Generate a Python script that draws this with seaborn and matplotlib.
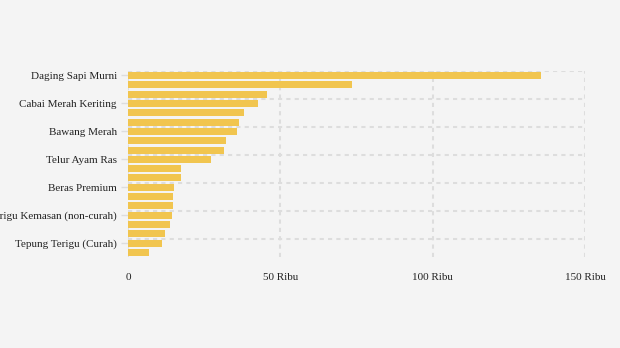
import matplotlib
matplotlib.use("Agg")
import matplotlib.pyplot as plt
import seaborn as sns
import pandas as pd
import numpy as np

categories = [
    "Daging Sapi Murni", "Cabai Rawit Merah", "Bawang Putih Bonggol",
    "Cabai Merah Keriting", "Cabai Merah Besar", "Daging Ayam Ras",
    "Bawang Merah", "Ikan Bandeng", "Ikan Kembung",
    "Telur Ayam Ras", "Minyak Goreng Kemasan", "Gula Konsumsi",
    "Beras Premium", "Minyakita", "Minyak Goreng Curah",
    "Tepung Terigu Kemasan (non-curah)", "Beras Medium", "Kedelai Biji Kering",
    "Tepung Terigu (Curah)", "Jagung Tk Peternak",
]
values = [135600, 73500, 45600, 42700, 38100, 36400, 35800, 32200, 31500,
          27200, 17400, 17400, 15100, 14800, 14800, 14400, 13800, 12100,
          11200, 6900]
xticks = [0, 50000, 100000, 150000]
xticklabels = ["0", "50 Ribu", "100 Ribu", "150 Ribu"]

df = pd.DataFrame({"cat": categories, "val": values})

sns.set_theme(style="white")
plt.rcParams["font.family"] = ["Liberation Serif", "DejaVu Serif"]

bg = "#f4f4f4"
fig = plt.figure(figsize=(6.2, 3.48), dpi=100, facecolor=bg)
ax = fig.add_axes([128/620, 1-257.3/348, (585-128)/620, (257.3-70.7)/348])
ax.set_facecolor(bg)

sns.barplot(data=df, x="val", y="cat", orient="h", color="#f1c54f",
            saturation=1, width=0.75, linewidth=0, edgecolor="none",
            ax=ax, zorder=3)

n = len(categories)
ax.set_xlim(0, 150000)
ax.set_ylim(n - 0.5, -0.5)

shown = list(range(0, n, 3))
ax.set_yticks(shown)
ax.set_yticklabels([categories[i] for i in shown], fontsize=8, color="#222222")
ax.set_yticks([i - 0.5 for i in shown], minor=True)
ax.set_xticks(xticks)
ax.set_xticklabels(xticklabels, fontsize=8, color="#222222")

ax.tick_params(axis="y", which="major", length=5, width=1, color="#dddddd",
               pad=3, left=True)
ax.tick_params(axis="y", which="minor", length=0)
ax.tick_params(axis="x", length=0, pad=11)

ax.grid(False)
ax.grid(True, axis="y", which="minor", color="#dddddd", linewidth=1.5,
        linestyle=(0, (2, 2)), zorder=0)
ax.grid(True, axis="x", which="major", color="#dddddd", linewidth=1.5,
        linestyle=(0, (2, 2)), zorder=0)

for s in ax.spines.values():
    s.set_visible(False)
ax.set_xlabel("")
ax.set_ylabel("")

fig.savefig("out.png", dpi=100, facecolor=bg)
